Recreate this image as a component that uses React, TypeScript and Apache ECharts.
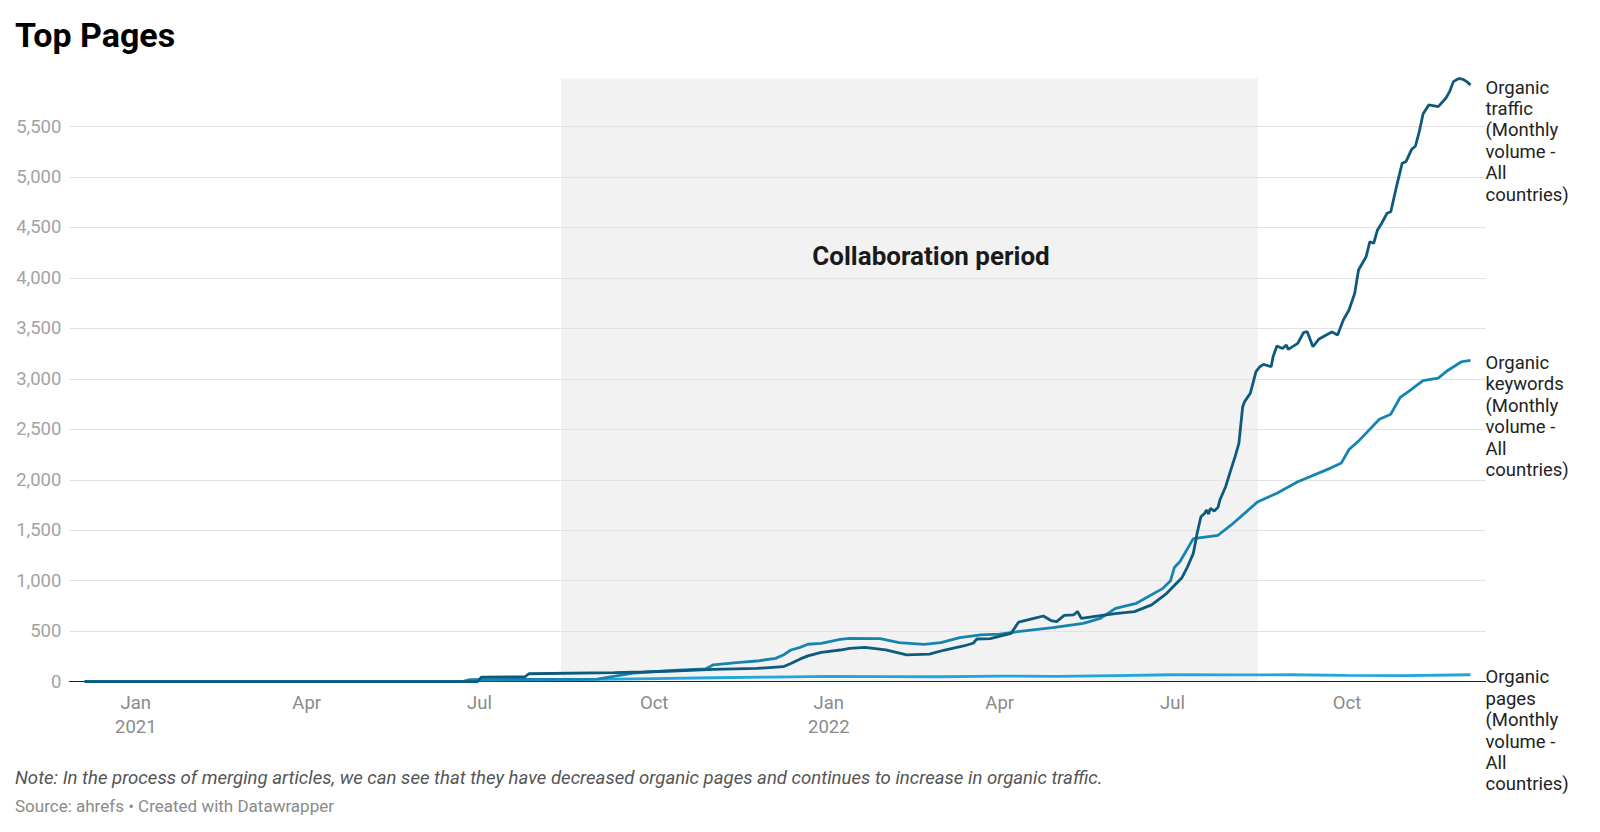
import React, { useEffect, useRef } from "react";
import * as echarts from "echarts";

// values
const traffic: [string, number][] = [
  ["2020-12-05", 0], ["2021-06-30", 0], ["2021-07-02", 45], ["2021-07-25", 48], ["2021-07-27", 78],
  ["2021-09-10", 88], ["2021-09-25", 95], ["2021-10-11", 105], ["2021-11-01", 122], ["2021-11-24", 131],
  ["2021-12-08", 148], ["2021-12-12", 180], ["2021-12-17", 225], ["2021-12-21", 255], ["2021-12-28", 290],
  ["2022-01-07", 313], ["2022-01-12", 330], ["2022-01-20", 340], ["2022-01-31", 315], ["2022-02-11", 265],
  ["2022-02-23", 272], ["2022-03-03", 313], ["2022-03-13", 353], ["2022-03-18", 380], ["2022-03-20", 422],
  ["2022-03-27", 425], ["2022-04-07", 478], ["2022-04-11", 590], ["2022-04-19", 627], ["2022-04-24", 650],
  ["2022-04-28", 605], ["2022-05-01", 595], ["2022-05-05", 657], ["2022-05-10", 662], ["2022-05-12", 695],
  ["2022-05-14", 627], ["2022-05-24", 653], ["2022-06-02", 677], ["2022-06-11", 693], ["2022-06-20", 760],
  ["2022-06-28", 875], ["2022-07-06", 1030], ["2022-07-09", 1140], ["2022-07-12", 1270], ["2022-07-14", 1470],
  ["2022-07-16", 1634], ["2022-07-18", 1668], ["2022-07-19", 1700], ["2022-07-20", 1660], ["2022-07-21", 1717],
  ["2022-07-23", 1690], ["2022-07-25", 1727], ["2022-07-26", 1800], ["2022-07-29", 1931], ["2022-08-01", 2113],
  ["2022-08-03", 2229], ["2022-08-05", 2361], ["2022-08-07", 2724], ["2022-08-08", 2774], ["2022-08-11", 2857],
  ["2022-08-14", 3071], ["2022-08-16", 3120], ["2022-08-18", 3144], ["2022-08-22", 3120], ["2022-08-23", 3219],
  ["2022-08-25", 3325], ["2022-08-28", 3300], ["2022-08-30", 3335], ["2022-08-31", 3292], ["2022-09-05", 3352],
  ["2022-09-08", 3457], ["2022-09-10", 3467], ["2022-09-13", 3318], ["2022-09-16", 3392], ["2022-09-20", 3434],
  ["2022-09-23", 3465], ["2022-09-26", 3434], ["2022-09-29", 3583], ["2022-10-02", 3682], ["2022-10-05", 3847],
  ["2022-10-07", 4078], ["2022-10-11", 4210], ["2022-10-13", 4359], ["2022-10-15", 4343], ["2022-10-17", 4475],
  ["2022-10-19", 4534], ["2022-10-22", 4640], ["2022-10-24", 4656], ["2022-10-27", 4904], ["2022-10-30", 5136],
  ["2022-11-01", 5152], ["2022-11-04", 5274], ["2022-11-06", 5307], ["2022-11-08", 5449], ["2022-11-10", 5624],
  ["2022-11-13", 5714], ["2022-11-18", 5697], ["2022-11-22", 5780], ["2022-11-24", 5846], ["2022-11-26", 5945],
  ["2022-11-29", 5978], ["2022-12-01", 5968], ["2022-12-03", 5945], ["2022-12-05", 5912],
];

const keywords: [string, number][] = [
  ["2020-12-05", 0], ["2021-06-22", 0], ["2021-06-26", 20], ["2021-07-26", 22], ["2021-09-01", 25],
  ["2021-09-12", 60], ["2021-09-20", 85], ["2021-10-11", 112], ["2021-10-28", 125], ["2021-11-01", 165],
  ["2021-11-15", 190], ["2021-11-24", 204], ["2021-12-04", 230], ["2021-12-08", 263], ["2021-12-12", 313],
  ["2021-12-17", 340], ["2021-12-21", 370], ["2021-12-28", 379], ["2022-01-07", 419], ["2022-01-12", 429],
  ["2022-01-28", 425], ["2022-02-07", 386], ["2022-02-20", 369], ["2022-03-01", 386], ["2022-03-11", 435],
  ["2022-03-22", 462], ["2022-04-01", 471], ["2022-04-15", 505], ["2022-04-29", 534], ["2022-05-15", 577],
  ["2022-05-24", 627], ["2022-06-01", 726], ["2022-06-12", 776], ["2022-06-26", 924], ["2022-06-30", 1000],
  ["2022-07-02", 1130], ["2022-07-05", 1190], ["2022-07-12", 1417], ["2022-07-25", 1450], ["2022-08-01", 1552],
  ["2022-08-15", 1783], ["2022-08-25", 1866], ["2022-09-05", 1981], ["2022-09-22", 2113], ["2022-09-28", 2167],
  ["2022-10-02", 2300], ["2022-10-07", 2383], ["2022-10-18", 2600], ["2022-10-24", 2650], ["2022-10-29", 2817],
  ["2022-11-03", 2883], ["2022-11-10", 2983], ["2022-11-18", 3007], ["2022-11-23", 3083], ["2022-11-30", 3167],
  ["2022-12-05", 3183],
];

const pages: [string, number][] = [
  ["2020-12-05", 0], ["2021-06-22", 0], ["2021-06-28", 15], ["2021-08-01", 18], ["2021-09-01", 22],
  ["2021-10-01", 30], ["2021-11-01", 38], ["2021-12-01", 45], ["2022-01-01", 52], ["2022-02-01", 50],
  ["2022-03-01", 48], ["2022-04-01", 55], ["2022-05-01", 52], ["2022-06-01", 60], ["2022-07-01", 68],
  ["2022-08-01", 66], ["2022-09-01", 68], ["2022-10-01", 62], ["2022-11-01", 60], ["2022-12-05", 68],
];

const xTickDates = ["2021-01-01", "2021-04-01", "2021-07-01", "2021-10-01", "2022-01-01", "2022-04-01", "2022-07-01", "2022-10-01"];
const xTickLabels = ["Jan\n2021", "Apr", "Jul", "Oct", "Jan\n2022", "Apr", "Jul", "Oct"];
const collaboration = ["2021-08-13", "2022-08-15"];

const seriesNames = [
  "Organic traffic (Monthly volume - All countries)",
  "Organic keywords (Monthly volume - All countries)",
  "Organic pages (Monthly volume - All countries)",
];
const seriesLabels = [
  "Organic\ntraffic\n(Monthly\nvolume -\nAll\ncountries)",
  "Organic\nkeywords\n(Monthly\nvolume -\nAll\ncountries)",
  "Organic\npages\n(Monthly\nvolume -\nAll\ncountries)",
];
const colors = ["#0d5a7c", "#1585b0", "#20a6d8"];

const ts = (s: string) => {
  const [y, m, d] = s.split("-").map(Number);
  return new Date(y, m - 1, d).getTime();
};

const FONT = "Roboto";

const App = () => {
  const chartRef = useRef<HTMLDivElement>(null);

  useEffect(() => {
    if (!chartRef.current) return;
    const chart = echarts.init(chartRef.current, undefined, { renderer: "svg" });

    const tickTs = xTickDates.map(ts);
    const labelOf = (v: number) => {
      const i = tickTs.indexOf(v);
      return i >= 0 ? xTickLabels[i] : "";
    };

    const endLabel = (i: number) => ({
      show: true,
      formatter: seriesLabels[i],
      color: "#222",
      fontFamily: FONT,
      fontSize: 18.5,
      lineHeight: 21.4,
      align: "left",
      verticalAlign: "top",
      distance: 15,
      offset: [0, -8],
    });

    const lineSeries = (i: number, data: [string, number][]) => ({
      type: "line",
      name: seriesNames[i],
      data: data.map(([d, v]) => [ts(d), v]),
      showSymbol: false,
      symbol: "none",
      lineStyle: { color: colors[i], width: 2.8 },
      itemStyle: { color: colors[i] },
      endLabel: endLabel(i),
      silent: true,
    });

    const option = {
      animation: false,
      backgroundColor: "#ffffff",
      textStyle: { fontFamily: FONT },
      title: {
        text: "Top Pages",
        left: 10,
        top: 13,
        textStyle: { fontFamily: FONT, fontSize: 34, fontWeight: 700, color: "#000" },
      },
      grid: { left: 69.4, right: 114.3, top: 78.6, bottom: 150.4 },
      xAxis: {
        type: "value",
        min: ts("2020-11-27"),
        max: ts("2022-12-13"),
        axisLine: { show: true, onZero: false, lineStyle: { color: "#222", width: 1.2 } },
        axisTick: { show: false },
        splitLine: { show: false },
        axisLabel: {
          customValues: tickTs,
          formatter: (v: number) => labelOf(v),
          color: "#8a8a8a",
          fontFamily: FONT,
          fontSize: 18.5,
          lineHeight: 23.5,
          margin: 10,
        },
      },
      yAxis: {
        type: "value",
        min: 0,
        max: 5975,
        interval: 500,
        axisLine: { show: false },
        axisTick: { show: false },
        axisLabel: {
          showMaxLabel: false,
          formatter: (v: number) => (v % 500 !== 0 ? "" : v.toLocaleString("en-US")),
          color: "#a3a3a3",
          fontFamily: FONT,
          fontSize: 18.5,
          margin: 8,
        },
        splitLine: {
          show: true,
          showMaxLine: false,
          showMinLine: false,
          lineStyle: { color: "#e2e2e2", width: 1 },
        },
      },
      graphic: [
        {
          type: "text",
          x: 931,
          y: 256,
          z: 10,
          style: {
            text: "Collaboration period",
            fontFamily: FONT,
            fontSize: 26,
            fontWeight: "bold",
            fill: "#1a1a1a",
            align: "center",
            verticalAlign: "middle",
          },
        },
        {
          type: "text",
          x: 15,
          y: 778,
          z: 10,
          style: {
            text: "Note: In the process of merging articles, we can see that they have decreased organic pages and continues to increase in organic traffic.",
            fontFamily: FONT,
            fontSize: 18.6,
            fontStyle: "italic",
            fill: "#555",
            verticalAlign: "middle",
          },
        },
        {
          type: "text",
          x: 15,
          y: 806,
          z: 10,
          style: {
            text: "Source: ahrefs \u2022 Created with Datawrapper",
            fontFamily: FONT,
            fontSize: 17,
            fill: "#8a8a8a",
            verticalAlign: "middle",
          },
        },
      ],
      series: [
        {
          type: "line",
          name: "band",
          data: [],
          z: -1,
          silent: true,
          markArea: {
            silent: true,
            z: -1,
            itemStyle: { color: "#f2f2f2" },
            data: [[{ xAxis: ts(collaboration[0]) }, { xAxis: ts(collaboration[1]) }]],
          },
        },
        lineSeries(2, pages),
        lineSeries(1, keywords),
        lineSeries(0, traffic),
      ],
    };

    chart.setOption(option as any);

    return () => {
      chart.dispose();
    };
  }, []);

  return (
    <div
      ref={chartRef}
      style={{ position: "fixed", left: 0, top: 0, width: "1600px", height: "832px", background: "#fff" }}
    />
  );
};

export default App;
